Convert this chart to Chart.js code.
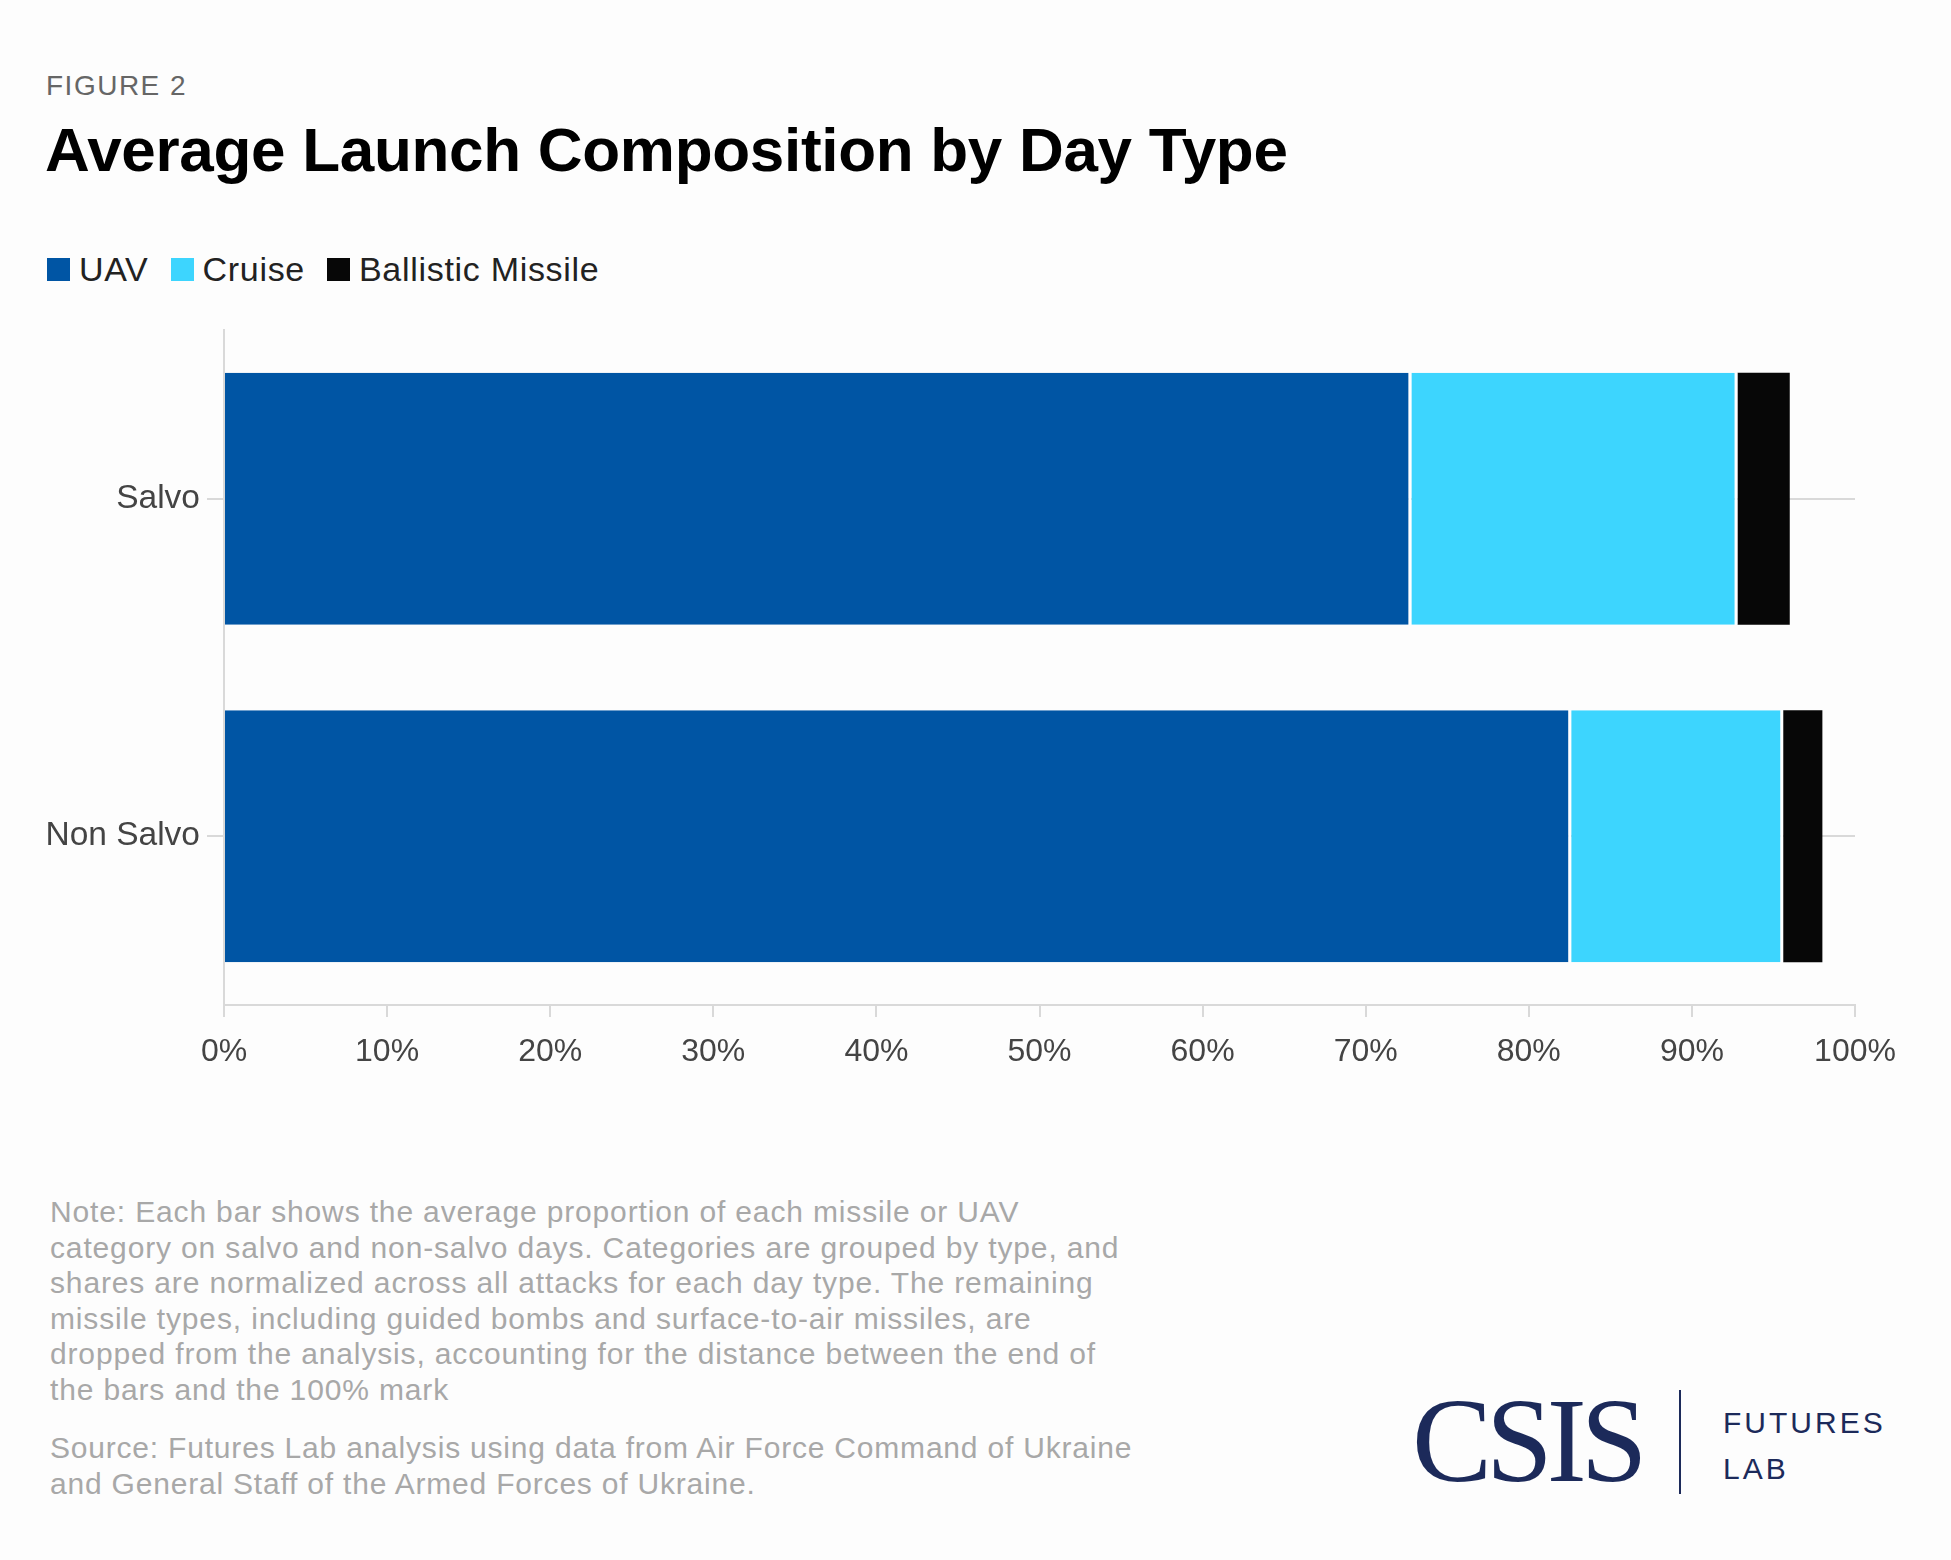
<!DOCTYPE html>
<html>
<head>
<meta charset="utf-8">
<script src="https://cdn.jsdelivr.net/npm/chart.js@4.4.1/dist/chart.umd.min.js"></script>
<style>
  html, body { margin: 0; padding: 0; background: #fdfdfd; }
  body { width: 1951px; height: 1560px; position: relative; overflow: hidden; font-family: "Liberation Sans", Arial, sans-serif; }
  .fig { position: absolute; left: 46px; top: 70px; font-size: 28px; letter-spacing: 1.5px; color: #666; }
  .title { position: absolute; left: 45px; top: 114px; font-size: 62px; font-weight: bold; letter-spacing: -0.3px; color: #000; }
  #legend { position: absolute; left: 47px; top: 250px; display: flex; font-size: 34px; letter-spacing: 0.7px; color: #222; }
  #legend .item { display: flex; align-items: center; margin-right: 22px; }
  #legend .box { width: 23px; height: 23px; margin-right: 9px; }
  #wrap { position: absolute; left: 0; top: 300px; width: 1951px; height: 800px; }
  .note { position: absolute; left: 50px; top: 1194px; font-size: 30px; letter-spacing: 0.85px; line-height: 35.5px; color: #a8a8a8; }
  .source { position: absolute; left: 50px; top: 1430px; font-size: 30px; letter-spacing: 0.8px; line-height: 35.5px; color: #a8a8a8; }
  .csis { position: absolute; left: 1412px; top: 1381px; font-family: "Liberation Serif", serif; font-size: 120px; color: #1c2a5a; letter-spacing: -6px; line-height: 120px; }
  .vline { position: absolute; left: 1679px; top: 1390px; width: 2px; height: 104px; background: #1c2a5a; }
  .futures { position: absolute; left: 1723px; top: 1400px; font-size: 30px; letter-spacing: 3px; color: #1c2a5a; line-height: 46px; }
</style>
</head>
<body>
<div class="fig">FIGURE 2</div>
<div class="title">Average Launch Composition by Day Type</div>
<div id="legend"></div>
<div id="wrap"><canvas id="chart"></canvas></div>
<div class="note">Note: Each bar shows the average proportion of each missile or UAV<br>category on salvo and non-salvo days. Categories are grouped by type, and<br>shares are normalized across all attacks for each day type. The remaining<br>missile types, including guided bombs and surface-to-air missiles, are<br>dropped from the analysis, accounting for the distance between the end of<br>the bars and the 100% mark</div>
<div class="source">Source: Futures Lab analysis using data from Air Force Command of Ukraine<br>and General Staff of the Armed Forces of Ukraine.</div>
<div class="csis">CSIS</div>
<div class="vline"></div>
<div class="futures">FUTURES<br>LAB</div>
<script>
// day types (y categories)
const dayTypes = ['Salvo', 'Non Salvo'];
// average share of launches, percent
const uav = [72.8, 82.6];
const cruise = [20.0, 13.0];
const ballistic = [3.2, 2.4];
const xTicks = [0, 10, 20, 30, 40, 50, 60, 70, 80, 90, 100];

const seriesNames = ['UAV', 'Cruise', 'Ballistic Missile'];
const seriesColors = ['#0055a4', '#3dd5fe', '#070707'];

const gridColor = '#d9d9d9';
const fontFamily = '"Liberation Sans", Arial, sans-serif';

const datasets = [uav, cruise, ballistic].map((vals, i) => ({
    label: seriesNames[i],
    data: vals,
    backgroundColor: seriesColors[i],
    borderColor: '#ffffff',
    borderWidth: i < 2 ? { top: 0, bottom: 0, left: 0, right: 3 } : 0,
    borderSkipped: false,
    barPercentage: 0.747,
    categoryPercentage: 1
}));

// html legend
const legend = document.getElementById('legend');
seriesNames.forEach((name, i) => {
    const item = document.createElement('div');
    item.className = 'item';
    item.innerHTML = '<span class="box" style="background:' + seriesColors[i] + '"></span>' + name;
    legend.appendChild(item);
});

new Chart(document.getElementById('chart'), {
    type: 'bar',
    data: { labels: dayTypes, datasets: datasets },
    options: {
        indexAxis: 'y',
        responsive: true,
        maintainAspectRatio: false,
        animation: false,
        layout: { padding: { top: 30, left: 46, right: 96, bottom: 15 } },
        plugins: {
            legend: { display: false },
            tooltip: { enabled: false }
        },
        scales: {
            x: {
                stacked: true,
                min: 0,
                max: 100,
                afterBuildTicks: (s) => { s.ticks = xTicks.map(v => ({ value: v })); },
                afterFit: (s) => { s.height = 80; },
                ticks: {
                    callback: (v) => v + '%',
                    color: '#444',
                    font: { family: fontFamily, size: 32 },
                    padding: 16,
                    maxRotation: 0
                },
                grid: { drawOnChartArea: false, drawTicks: true, tickLength: 12, color: gridColor, lineWidth: 2 },
                border: { color: gridColor, width: 2 }
            },
            y: {
                stacked: true,
                afterFit: (s) => { s.width = 178; },
                ticks: { color: '#444', font: { family: fontFamily, size: 33.5 }, padding: 7 },
                grid: { offset: false, drawOnChartArea: true, tickLength: 17, color: gridColor, lineWidth: 2 },
                border: { color: gridColor, width: 2 }
            }
        }
    }
});
</script>
</body>
</html>
